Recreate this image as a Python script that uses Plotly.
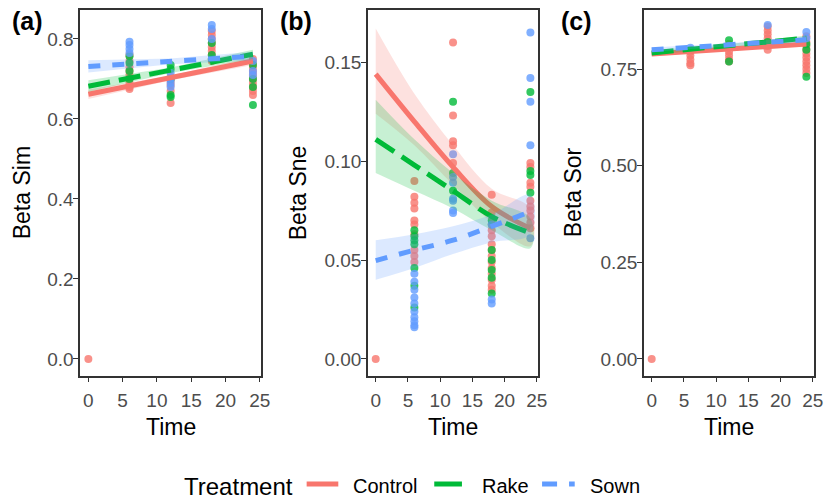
import plotly.graph_objects as go

# ---------------- data ----------------
treatments = ["Control", "Rake", "Sown"]

# Panel (a) Beta Sim : time -> observed values
sim_control = {0: [0.0],
               6: [0.76, 0.745, 0.73, 0.72, 0.71, 0.70, 0.69, 0.68, 0.675],
               12: [0.705, 0.695, 0.685, 0.67, 0.64],
               18: [0.82, 0.81, 0.80, 0.79, 0.78, 0.77, 0.76, 0.75, 0.745],
               24: [0.75, 0.74, 0.73, 0.72, 0.71, 0.70, 0.69, 0.68, 0.67, 0.66]}
sim_rake = {6: [0.757, 0.74, 0.72, 0.70],
            12: [0.735, 0.725, 0.70, 0.66, 0.655],
            18: [0.79, 0.76, 0.75],
            24: [0.735, 0.70, 0.68, 0.635]}
sim_sown = {6: [0.793, 0.785, 0.775, 0.765],
            12: [0.715, 0.70, 0.69, 0.68],
            18: [0.835, 0.825, 0.80],
            24: [0.745, 0.72, 0.71]}

# Panel (b) Beta Sne
sne_control = {0: [0.0],
               6: [0.090, 0.082, 0.079, 0.076, 0.070, 0.068, 0.063, 0.055, 0.052, 0.049],
               12: [0.160, 0.123, 0.110, 0.108, 0.099],
               18: [0.083, 0.074, 0.068, 0.065, 0.062, 0.058, 0.055, 0.052, 0.049,
                    0.046, 0.043, 0.040, 0.037, 0.035],
               24: [0.099, 0.097, 0.089, 0.087, 0.080, 0.077, 0.075, 0.072, 0.069, 0.066]}
sne_rake = {6: [0.065, 0.062, 0.060, 0.058, 0.046, 0.037, 0.026],
            12: [0.130, 0.094, 0.085],
            18: [0.070, 0.055, 0.050, 0.045, 0.041, 0.033],
            24: [0.135, 0.095, 0.093, 0.084]}
sne_sown = {6: [0.043, 0.039, 0.035, 0.031, 0.028, 0.024, 0.021, 0.019, 0.017, 0.016],
            12: [0.1035, 0.092, 0.089, 0.081, 0.080, 0.075, 0.0737],
            18: [0.068, 0.030, 0.028],
            24: [0.165, 0.142, 0.130, 0.108, 0.061]}

# Panel (c) Beta Sor
sor_control = {0: [0.0],
               6: [0.795, 0.785, 0.775, 0.765, 0.76],
               12: [0.815, 0.805, 0.795, 0.785, 0.775, 0.77],
               18: [0.86, 0.85, 0.84, 0.83, 0.82, 0.81, 0.80],
               24: [0.835, 0.82, 0.81, 0.80, 0.79, 0.78, 0.77, 0.76, 0.75, 0.74]}
sor_rake = {6: [0.80], 12: [0.825, 0.77], 18: [0.82], 24: [0.815, 0.80, 0.73]}
sor_sown = {6: [0.805], 12: [0.81], 18: [0.864], 24: [0.846, 0.83]}

# fitted lines and confidence bands
fit_time_lin = [0, 12, 24]
fit_time_sne = [0, 6, 12, 18, 24]

sim_fit = {"Control": [0.662, 0.703, 0.745], "Rake": [0.682, 0.722, 0.762], "Sown": [0.731, 0.744, 0.757]}
sim_lo = {"Control": [0.650, 0.697, 0.735], "Rake": [0.668, 0.715, 0.750], "Sown": [0.716, 0.737, 0.746]}
sim_hi = {"Control": [0.674, 0.709, 0.755], "Rake": [0.697, 0.729, 0.773], "Sown": [0.747, 0.751, 0.768]}

sne_fit = {"Control": [0.144, 0.120, 0.097, 0.077, 0.066],
           "Rake": [0.111, 0.098, 0.085, 0.072, 0.0636],
           "Sown": [0.0497, 0.055, 0.060, 0.067, 0.0745]}
sne_lo = {"Control": [0.124, 0.108, 0.088, 0.069, 0.057],
          "Rake": [0.094, 0.085, 0.076, 0.065, 0.056],
          "Sown": [0.040, 0.046, 0.053, 0.059, 0.063]}
sne_hi = {"Control": [0.167, 0.134, 0.108, 0.086, 0.076],
          "Rake": [0.131, 0.111, 0.094, 0.080, 0.071],
          "Sown": [0.060, 0.063, 0.067, 0.073, 0.083]}

sor_fit = {"Control": [0.789, 0.802, 0.815], "Rake": [0.792, 0.811, 0.830], "Sown": [0.800, 0.813, 0.826]}
sor_lo = {"Control": [0.783, 0.798, 0.808], "Rake": [0.786, 0.807, 0.823], "Sown": [0.794, 0.809, 0.819]}
sor_hi = {"Control": [0.795, 0.806, 0.822], "Rake": [0.798, 0.815, 0.837], "Sown": [0.806, 0.817, 0.833]}

x_ticks = [0, 5, 10, 15, 20, 25]
sim_ticks = [0.0, 0.2, 0.4, 0.6, 0.8]
sim_ticktext = ["0.0", "0.2", "0.4", "0.6", "0.8"]
sne_ticks = [0.0, 0.05, 0.10, 0.15]
sne_ticktext = ["0.00", "0.05", "0.10", "0.15"]
sor_ticks = [0.0, 0.25, 0.50, 0.75]
sor_ticktext = ["0.00", "0.25", "0.50", "0.75"]

# ---------------- style ----------------
colors = {"Control": "#F8766D", "Rake": "#00BA38", "Sown": "#619CFF"}
fills = {"Control": "rgba(248,118,109,0.22)", "Rake": "rgba(0,186,56,0.22)", "Sown": "rgba(97,156,255,0.22)"}
dashes = {"Control": "solid", "Rake": "22px,9px", "Sown": "12px,12px"}
legend_dashes = {"Control": "solid", "Rake": "solid", "Sown": "15px,12px"}
FONT = "Liberation Sans, Arial, sans-serif"
W, H = 832, 502

fig = go.Figure()

panels = [
    ("x", "y", {"Control": sim_control, "Rake": sim_rake, "Sown": sim_sown}, fit_time_lin, sim_fit, sim_lo, sim_hi, "linear"),
    ("x2", "y2", {"Control": sne_control, "Rake": sne_rake, "Sown": sne_sown}, fit_time_sne, sne_fit, sne_lo, sne_hi, "spline"),
    ("x3", "y3", {"Control": sor_control, "Rake": sor_rake, "Sown": sor_sown}, fit_time_lin, sor_fit, sor_lo, sor_hi, "linear"),
]

for pi, (xa, ya, pts, ft, fit, lo, hi, shape) in enumerate(panels):
    for t in treatments:
        xs, ys = [], []
        for time, vals in pts[t].items():
            for v in vals:
                xs.append(time)
                ys.append(v)
        fig.add_trace(go.Scatter(x=xs, y=ys, mode="markers", xaxis=xa, yaxis=ya,
                                 marker=dict(color=colors[t], size=8, opacity=0.8, line=dict(width=0)),
                                 showlegend=False, hoverinfo="skip"))
    for t in treatments:
        fig.add_trace(go.Scatter(x=list(ft) + list(ft)[::-1], y=list(hi[t]) + list(lo[t])[::-1],
                                 mode="lines", fill="toself", fillcolor=fills[t],
                                 line=dict(width=0, shape=shape), xaxis=xa, yaxis=ya,
                                 showlegend=False, hoverinfo="skip"))
        fig.add_trace(go.Scatter(x=ft, y=fit[t], mode="lines", xaxis=xa, yaxis=ya,
                                 line=dict(color=colors[t], width=5, dash=dashes[t], shape=shape),
                                 name=t, showlegend=False))

ydom = [1 - 375.5 / H, 1 - 10 / H]
xdoms = [[81 / W, 264 / W], [372 / W, 544 / W], [651 / W, 823 / W]]
yranges = [[-0.0415, 0.8725], [-0.0084, 0.1764], [-0.043, 0.903]]
yticks = [(sim_ticks, sim_ticktext), (sne_ticks, sne_ticktext), (sor_ticks, sor_ticktext)]

axis_common = dict(showline=True, mirror=True, linecolor="#333333", linewidth=1.5,
                   ticks="outside", ticklen=5, tickwidth=1.3, tickcolor="#333333",
                   showgrid=False, zeroline=False,
                   tickfont=dict(family=FONT, size=19, color="#4D4D4D"))

layout = dict(width=W, height=H, margin=dict(l=0, r=0, t=0, b=0), autosize=False, showlegend=False,
              paper_bgcolor="white", plot_bgcolor="white", font=dict(family=FONT))
for i in range(3):
    sfx = "" if i == 0 else str(i + 1)
    layout["xaxis" + sfx] = dict(domain=xdoms[i], range=[-1.2, 25.2], tickvals=x_ticks,
                                 anchor="y" + sfx, ticklabelstandoff=2, **axis_common)
    layout["yaxis" + sfx] = dict(domain=ydom, range=yranges[i], tickvals=yticks[i][0],
                                 ticktext=yticks[i][1], anchor="x" + sfx, ticklabelstandoff=-4,
                                 **axis_common)
fig.update_layout(**layout)

ann = []
tags = [("(a)", 10), ("(b)", 281), ("(c)", 565)]
for txt, px in tags:
    ann.append(dict(text="<b>%s</b>" % txt, x=px / W, y=1 - 21 / H, xref="paper", yref="paper",
                    xanchor="left", yanchor="middle", showarrow=False,
                    font=dict(family=FONT, size=25, color="black")))
ytitles = [("Beta Sim", 22), ("Beta Sne", 301), ("Beta Sor", 579)]
for txt, px in ytitles:
    ann.append(dict(text=txt, x=px / W, y=1 - 192.5 / H, xref="paper", yref="paper",
                    xanchor="center", yanchor="middle", textangle=-90, showarrow=False,
                    font=dict(family=FONT, size=23, color="black")))
for cx in [172.5, 458, 737]:
    ann.append(dict(text="Time", x=cx / W, y=1 - 427 / H, xref="paper", yref="paper",
                    xanchor="center", yanchor="middle", showarrow=False,
                    font=dict(family=FONT, size=23, color="black")))

# legend (drawn as keys + text)
LEG_Y = 486
ann.append(dict(text="Treatment", x=298 / W, y=1 - LEG_Y / H, xref="paper", yref="paper",
                xanchor="right", yanchor="middle", showarrow=False,
                font=dict(family=FONT, size=24, color="black")))
legend_keys = {"Control": (310, 342, 355), "Rake": (439, 467, 485), "Sown": (548, 581, 594)}
shapes = []
for t in treatments:
    k0, k1, tx = legend_keys[t]
    shapes.append(dict(type="line", xref="paper", yref="paper", x0=k0 / W, x1=k1 / W,
                       y0=1 - (LEG_Y - 2) / H, y1=1 - (LEG_Y - 2) / H,
                       line=dict(color=colors[t], width=5, dash=legend_dashes[t])))
    ann.append(dict(text=t, x=tx / W, y=1 - LEG_Y / H, xref="paper", yref="paper",
                    xanchor="left", yanchor="middle", showarrow=False,
                    font=dict(family=FONT, size=20, color="black")))
fig.update_layout(annotations=ann, shapes=shapes)

fig.write_html("out.html")
